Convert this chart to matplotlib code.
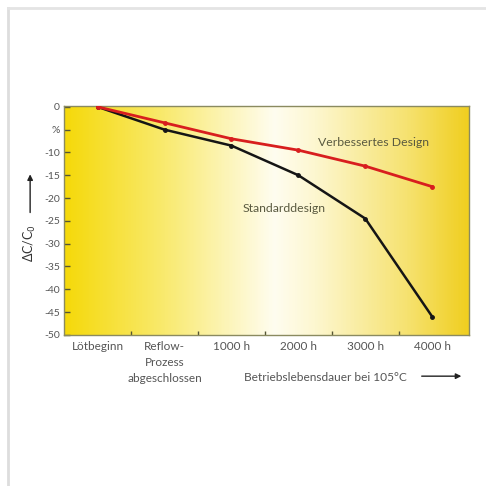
import numpy as np
import matplotlib
matplotlib.use("Agg")
import matplotlib.pyplot as plt
from matplotlib.colors import LinearSegmentedColormap

# Data
categories = ["Lötbeginn", "Reflow-\nProzess\nabgeschlossen", "1000 h", "2000 h", "3000 h", "4000 h"]
standard = [0, -5, -8.5, -15, -24.5, -46]
improved = [0, -3.5, -7, -9.5, -13, -17.5]
ytick_values = [0, -5, -10, -15, -20, -25, -30, -35, -40, -45, -50]
ytick_labels = ["0", "%", "-10", "-15", "-20", "-25", "-30", "-35", "-40", "-45", "-50"]

plt.rcParams["font.family"] = ["Lato", "DejaVu Sans"]
text_col = "#555555"


def main():
    fig = plt.figure(figsize=(4.86, 4.86), dpi=100)
    fig.patch.set_facecolor("white")

    # thin grey frame lines at top and left of the picture
    fig.add_artist(plt.Line2D([0.017, 0.017], [0.0, 0.983], color="#dddddd", lw=2))
    fig.add_artist(plt.Line2D([0.017, 1.0], [0.983, 0.983], color="#e4e4e4", lw=2))

    ax = fig.add_axes([0.132, 0.311, 0.833, 0.471])
    x = np.arange(len(categories))
    xlim = (-0.5, 5.55)
    ylim = (-50, 0.2)

    # yellow-white-yellow background
    cmap = LinearSegmentedColormap.from_list("bg", [
        (0.0, "#f5d90a"),
        (0.25, "#f9ea70"),
        (0.52, "#fffdf0"),
        (0.62, "#fdf7d0"),
        (0.85, "#f6e270"),
        (1.0, "#f0cf20"),
    ])
    grad = np.linspace(0, 1, 400).reshape(1, -1)
    ax.imshow(grad, cmap=cmap, aspect="auto", extent=[xlim[0], xlim[1], ylim[0], ylim[1]],
              zorder=0, interpolation="bilinear")

    ax.plot(x, standard, color="#151515", lw=1.8, marker="o", ms=2.5, zorder=3)
    ax.plot(x, improved, color="#d81e1e", lw=2.0, marker="o", ms=2.5, zorder=4)

    ax.set_xlim(*xlim)
    ax.set_ylim(*ylim)

    ax.set_yticks(ytick_values)
    ax.set_yticklabels(ytick_labels)
    ax.tick_params(axis="y", direction="in", length=4, width=1, color="#555533",
                   labelsize=7.5, labelcolor=text_col, pad=3)

    # x ticks sit between the categories, labels are placed as text
    ax.set_xticks(x[:-1] + 0.5)
    ax.set_xticklabels([])
    ax.tick_params(axis="x", direction="in", length=3, width=1, color="#555533")
    for xi, lab in zip(x, categories):
        ax.text(xi, -51.3, lab, ha="center", va="top", fontsize=8.5, color=text_col,
                linespacing=1.55)

    for sp in ax.spines.values():
        sp.set_color("#8a8a60")
        sp.set_linewidth(1)

    ax.text(3.3, -8.6, "Verbessertes Design", fontsize=8.8, color="#5a5a40")
    ax.text(2.17, -23.0, "Standarddesign", fontsize=8.8, color="#5a5a40")

    # axis titles with arrows
    fig.text(0.502, 0.224, "Betriebslebensdauer bei 105°C", fontsize=8.6, color=text_col,
             ha="left", va="center")
    fig.add_artist(matplotlib.patches.FancyArrowPatch((0.862, 0.226), (0.955, 0.226),
                   arrowstyle="-|>", mutation_scale=8, color="#222222", lw=1))
    fig.text(0.062, 0.50, "ΔC/C$_0$", fontsize=9, color="#333333", rotation=90,
             ha="center", va="center")
    fig.add_artist(matplotlib.patches.FancyArrowPatch((0.062, 0.557), (0.062, 0.647),
                   arrowstyle="-|>", mutation_scale=8, color="#222222", lw=1))

    fig.savefig("out.png", dpi=100)
    plt.close(fig)


if __name__ == "__main__":
    main()
